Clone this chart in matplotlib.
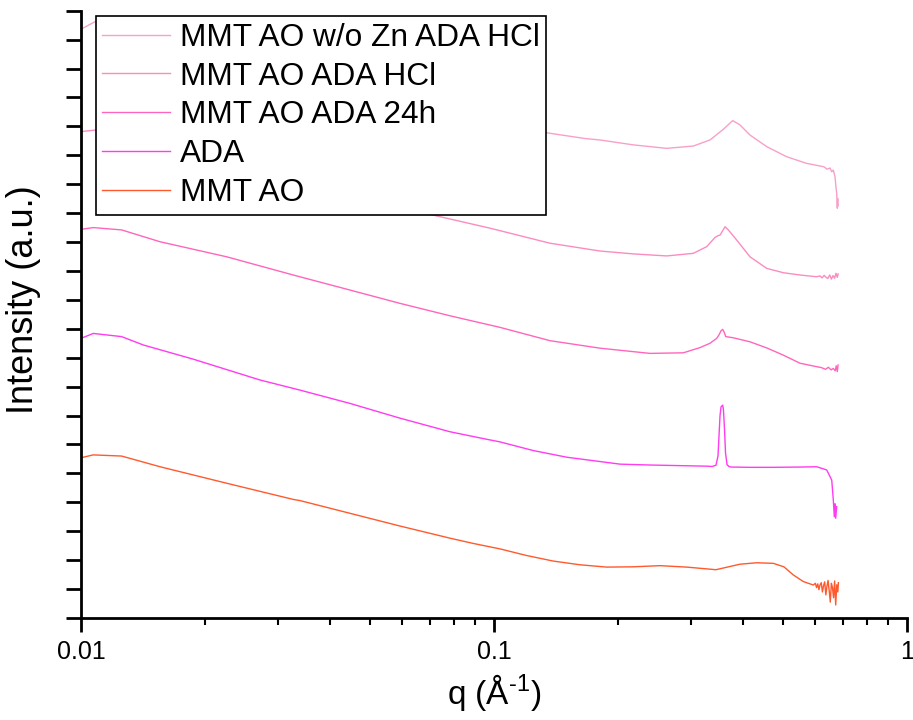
import matplotlib
matplotlib.use("Agg")
import matplotlib.pyplot as plt
from matplotlib.ticker import LogLocator, NullFormatter, FixedLocator, FixedFormatter

plt.rcParams['font.family'] = ['Liberation Sans', 'DejaVu Sans']
plt.rcParams['mathtext.fontset'] = 'custom'
plt.rcParams['mathtext.rm'] = 'Liberation Sans'

# SAXS curves, stacked (log intensity + offset)
q_wozn = [0.0100, 0.01081, 0.01254, 0.01554, 0.02253, 0.03266, 0.04481, 0.05921,
          0.07826, 0.09779, 0.1339, 0.1661, 0.1806, 0.2175, 0.2619, 0.3038, 0.3334,
          0.3592, 0.3784, 0.3941, 0.4167, 0.4574, 0.5113, 0.5717, 0.6157, 0.6300,
          0.6400, 0.6511, 0.6573, 0.6631, 0.6660, 0.6694, 0.6730, 0.6757, 0.6780,
          0.6795, 0.6810]
i_wozn = [20.36, 20.62, 20.56, 20.16, 19.64, 19.00, 18.48, 18.02,
          17.60, 17.28, 16.78, 16.58, 16.53, 16.36, 16.24, 16.32, 16.53,
          16.90, 17.20, 17.05, 16.70, 16.30, 15.95, 15.72, 15.63, 15.60,
          15.52, 15.56, 15.43, 15.49, 15.38, 15.26, 14.90, 14.69, 14.17,
          14.51, 14.25]

q_hcl = [0.0100, 0.01081, 0.01254, 0.01554, 0.02253, 0.03266, 0.04481, 0.05921,
         0.07129, 0.09779, 0.1366, 0.1806, 0.2175, 0.2619, 0.3038, 0.3273, 0.3385,
         0.3428, 0.3486, 0.3526, 0.3575, 0.3626, 0.3693, 0.3869, 0.4167, 0.4574,
         0.5017, 0.5508, 0.6045, 0.6157, 0.6230, 0.6300, 0.6370, 0.6430, 0.6500,
         0.6560, 0.6620, 0.6680, 0.6730, 0.6780, 0.6810]
i_hcl = [16.82, 16.87, 16.75, 16.36, 15.84, 15.20, 14.68, 14.22,
         13.93, 13.48, 12.96, 12.69, 12.59, 12.52, 12.61, 12.84, 13.07,
         13.16, 13.22, 13.24, 13.38, 13.53, 13.42, 13.07, 12.49, 12.09,
         11.94, 11.86, 11.80, 11.83, 11.76, 11.85, 11.78, 11.74, 11.86,
         11.72, 11.84, 11.75, 11.92, 11.78, 11.90]

q_24h = [0.0100, 0.01071, 0.01254, 0.01554, 0.02253, 0.03266, 0.04481, 0.05921,
         0.07826, 0.09779, 0.1034, 0.1366, 0.1806, 0.2386, 0.2873, 0.3153, 0.3334,
         0.3461, 0.3506, 0.3545, 0.3579, 0.3606, 0.3641, 0.3797, 0.4167, 0.4574,
         0.5017, 0.5508, 0.6045, 0.6200, 0.6350, 0.6450, 0.6550, 0.6631, 0.6700,
         0.6740, 0.6780, 0.6810]
i_24h = [13.44, 13.50, 13.42, 13.01, 12.49, 11.86, 11.34, 10.88,
         10.45, 10.13, 10.05, 9.59, 9.33, 9.15, 9.17, 9.35, 9.50,
         9.67, 9.79, 9.93, 9.98, 9.89, 9.73, 9.69, 9.55, 9.34,
         9.09, 8.81, 8.69, 8.66, 8.60, 8.67, 8.58, 8.63, 8.55,
         8.72, 8.52, 8.75]

q_ada = [0.0100, 0.01071, 0.01254, 0.01416, 0.01870, 0.02713, 0.03391, 0.04481,
         0.05921, 0.07826, 0.09601, 0.1034, 0.1245, 0.1500, 0.2019, 0.2386, 0.3273,
         0.3372, 0.3447, 0.3486, 0.3506, 0.3526, 0.3546, 0.3579, 0.3594, 0.3616,
         0.3636, 0.3667, 0.3707, 0.3749, 0.4167, 0.4747, 0.5508, 0.6045, 0.6391,
         0.6573, 0.6631, 0.6668, 0.6694, 0.6720, 0.6757]
i_ada = [9.67, 9.84, 9.73, 9.44, 8.95, 8.23, 7.88, 7.42,
         6.91, 6.44, 6.18, 6.09, 5.79, 5.56, 5.32, 5.29, 5.25,
         5.24, 5.28, 5.60, 6.30, 7.00, 7.30, 7.36, 7.20, 6.50,
         5.70, 5.30, 5.24, 5.22, 5.21, 5.21, 5.22, 5.23, 5.12,
         4.77, 4.08, 3.50, 3.95, 3.45, 3.85]

q_ao = [0.0100, 0.0107, 0.01254, 0.01554, 0.02253, 0.03266, 0.03391, 0.04481,
        0.05921, 0.07826, 0.08896, 0.09779, 0.1034, 0.1200, 0.1390, 0.1615, 0.1875,
        0.2175, 0.2523, 0.2928, 0.3447, 0.3941, 0.4325, 0.4747, 0.5034, 0.5305,
        0.5610, 0.5932, 0.600, 0.604, 0.608, 0.612, 0.616, 0.620, 0.624, 0.628,
        0.632, 0.636, 0.640, 0.644, 0.648, 0.652, 0.656, 0.660, 0.664, 0.668,
        0.672, 0.676, 0.680, 0.682]
i_ao = [5.54, 5.64, 5.60, 5.23, 4.66, 4.10, 4.06, 3.62,
        3.18, 2.76, 2.58, 2.46, 2.39, 2.16, 1.97, 1.84, 1.76,
        1.77, 1.81, 1.76, 1.67, 1.86, 1.91, 1.89, 1.77, 1.49,
        1.26, 1.14, 1.20, 1.05, 1.18, 0.98, 1.15, 1.22, 0.90, 1.12,
        1.25, 0.80, 1.10, 1.30, 0.95, 0.55, 1.20, 1.05, 0.70, 1.28,
        0.45, 1.15, 0.90, 1.22]

labels = ["MMT AO w/o Zn ADA HCl", "MMT AO ADA HCl", "MMT AO ADA 24h", "ADA", "MMT AO"]
colors = ["#F8A0C8", "#FB8CC0", "#FF66BB", "#FF3CF0", "#FF5A2E"]

fig = plt.figure(figsize=(9.13, 7.2), dpi=100)
ax = fig.add_axes([81 / 913, 102 / 720, 826 / 913, 607.3 / 720])

series = [(q_wozn, i_wozn), (q_hcl, i_hcl), (q_24h, i_24h), (q_ada, i_ada), (q_ao, i_ao)]
for (q, i), lab, c in zip(series, labels, colors):
    ax.plot(q, i, color=c, lw=1.0, label=lab)

ax.set_xscale("log")
ax.set_xlim(0.01, 1)
ax.set_ylim(0, 21)
ax.xaxis.set_major_locator(FixedLocator([0.01, 0.1, 1]))
ax.xaxis.set_major_formatter(FixedFormatter(["0.01", "0.1", "1"]))
ax.xaxis.set_minor_locator(LogLocator(base=10, subs=range(2, 10)))
ax.xaxis.set_minor_formatter(NullFormatter())
ax.set_yticks(range(0, 22))
ax.set_yticklabels([])

for side in ("top", "right"):
    ax.spines[side].set_visible(False)
for side in ("left", "bottom"):
    ax.spines[side].set_linewidth(2)

ax.tick_params(axis="x", which="major", length=10, width=2, labelsize=18, pad=6)
ax.tick_params(axis="x", which="minor", length=5, width=1.5)
ax.tick_params(axis="y", which="major", length=11, width=2)

ax.set_xlabel(r"q (Å$^{\mathregular{\text{-}1}}$)", fontsize=24, labelpad=6)
ax.set_ylabel("Intensity (a.u.)", fontsize=26)
ax.yaxis.set_label_coords(-0.049, 0.525)

leg = ax.legend(loc="upper left", bbox_to_anchor=(0.0178, 0.9913), borderaxespad=0,
                fontsize=22.8, frameon=True, fancybox=False, edgecolor="black",
                framealpha=1, handlelength=2.15, handletextpad=0.3,
                labelspacing=0.28, borderpad=0.21)
leg.get_frame().set_linewidth(1.2)

fig.savefig("out.png", dpi=100)
